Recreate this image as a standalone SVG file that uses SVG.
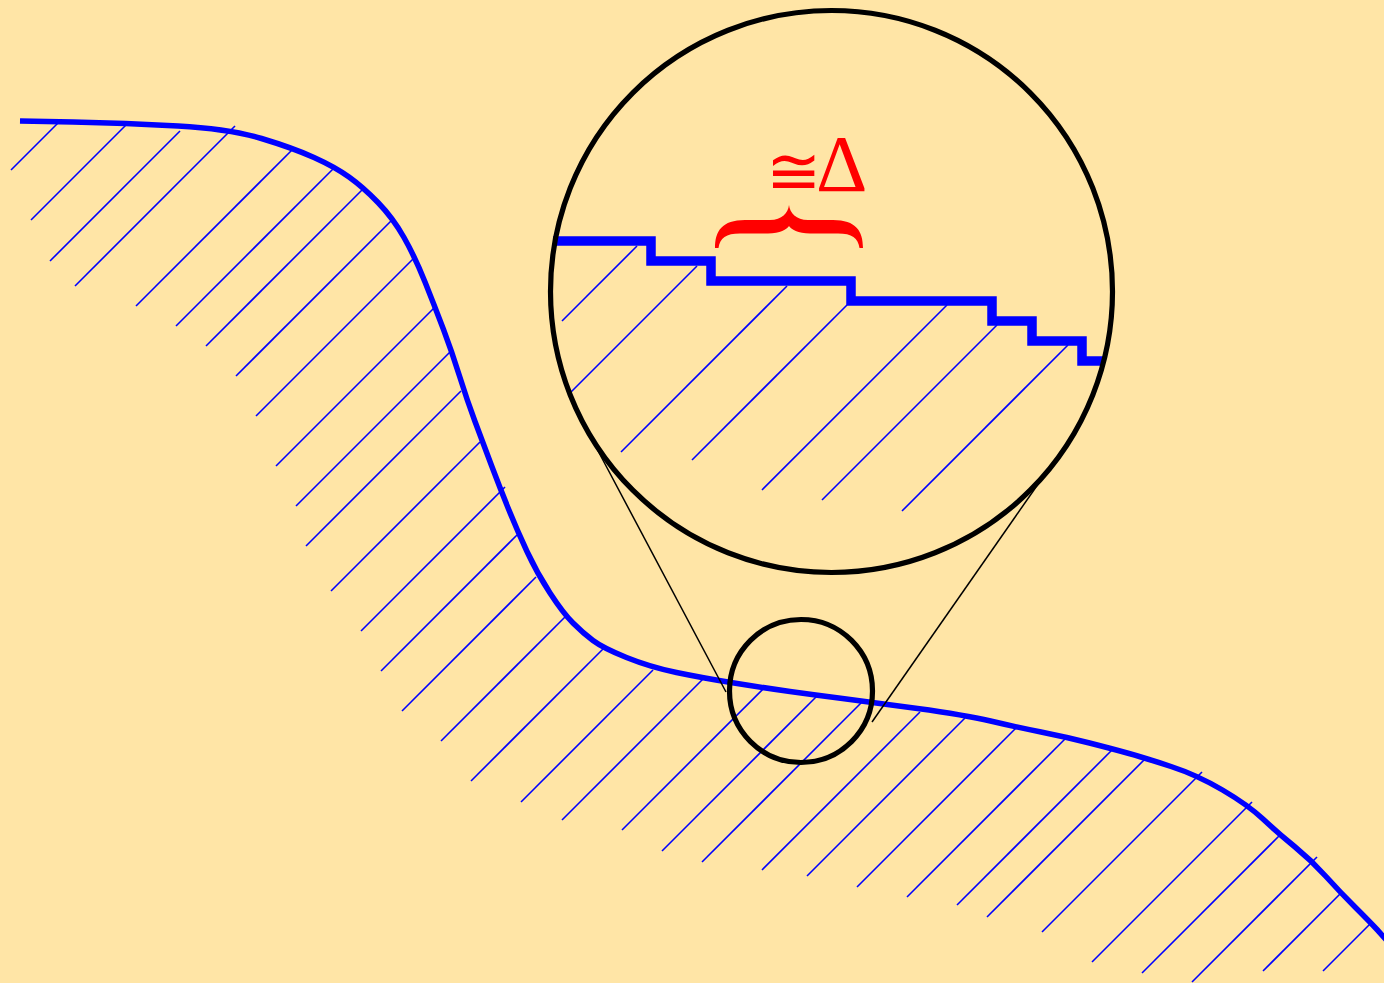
<svg xmlns="http://www.w3.org/2000/svg" width="1384" height="983" viewBox="0 0 1384 983">
<style>
.h{stroke:#0000FF;stroke-width:1.6;fill:none}
.curve{stroke:#0000FF;stroke-width:5.5;fill:none;stroke-linejoin:round}
.ring{stroke:#000;stroke-width:5.2;fill:none}
.conn{stroke:#000;stroke-width:1.5;fill:none}
.lbl{fill:#FF0000;font-family:"Liberation Serif","DejaVu Serif",serif;font-size:80px}
</style>
<rect x="0" y="0" width="1384" height="983" fill="#FFE5A6"/>
<g id="hatch">
<line class="h" x1="58" y1="123" x2="11" y2="170"/>
<line class="h" x1="126" y1="125" x2="31" y2="220"/>
<line class="h" x1="180" y1="131" x2="50" y2="261"/>
<line class="h" x1="235" y1="126" x2="75" y2="286"/>
<line class="h" x1="293" y1="149" x2="136" y2="306"/>
<line class="h" x1="334" y1="168" x2="176" y2="326"/>
<line class="h" x1="364" y1="188" x2="206" y2="346"/>
<line class="h" x1="394" y1="218" x2="236" y2="376"/>
<line class="h" x1="415" y1="257" x2="256" y2="416"/>
<line class="h" x1="435" y1="307" x2="276" y2="466"/>
<line class="h" x1="452" y1="350" x2="296" y2="506"/>
<line class="h" x1="461" y1="391" x2="306" y2="546"/>
<line class="h" x1="480" y1="442" x2="331" y2="591"/>
<line class="h" x1="505" y1="487" x2="361" y2="631"/>
<line class="h" x1="517" y1="535" x2="381" y2="671"/>
<line class="h" x1="536" y1="577" x2="402" y2="711"/>
<line class="h" x1="565" y1="617" x2="441" y2="741"/>
<line class="h" x1="603" y1="649" x2="471" y2="781"/>
<line class="h" x1="653" y1="670" x2="521" y2="802"/>
<line class="h" x1="703" y1="679" x2="562" y2="820"/>
<line class="h" x1="764" y1="688" x2="622" y2="830"/>
<line class="h" x1="817" y1="696" x2="662" y2="851"/>
<line class="h" x1="862" y1="702" x2="702" y2="862"/>
<line class="h" x1="920" y1="712" x2="762" y2="870"/>
<line class="h" x1="965" y1="718" x2="807" y2="876"/>
<line class="h" x1="1017" y1="727" x2="857" y2="887"/>
<line class="h" x1="1066" y1="738" x2="907" y2="897"/>
<line class="h" x1="1113" y1="749" x2="957" y2="905"/>
<line class="h" x1="1145" y1="759" x2="987" y2="917"/>
<line class="h" x1="1202" y1="772" x2="1042" y2="932"/>
<line class="h" x1="1252" y1="802" x2="1092" y2="962"/>
<line class="h" x1="1279" y1="836" x2="1142" y2="973"/>
<line class="h" x1="1317" y1="857" x2="1192" y2="982"/>
<line class="h" x1="1340" y1="894" x2="1263" y2="971"/>
<line class="h" x1="1370" y1="924" x2="1323" y2="971"/>
</g>
<g id="surface">
<path class="curve" d="M20,121 L73,122 Q126,123 178,126 Q230,129 261.5,138.5 Q293,148 314,157.5 Q335,167 349,177 Q363,187 378,202.5 Q393,218 404,237.5 Q415,257 425,282 Q435,307 443.5,329.5 Q452,352 459.5,376 Q467,400 475,421.5 Q483,443 491.5,465.5 Q500,488 508.5,509 Q517,530 527,551.5 Q537,573 550,593 Q563,613 573,623 Q583,633 593,640.5 Q603,648 626.5,657.5 Q650,667 676.5,672.5 Q703,678 734,683 Q765,688 790,691.5 Q815,695 842.5,698.5 Q870,702 917.5,708.5 Q965,715 990.5,721 Q1016,727 1041,732 Q1066,737 1089.5,743 Q1113,749 1129,753.5 Q1145,758 1171,766.5 Q1197,775 1222.5,790 Q1248,805 1263,819 Q1278,833 1294.5,846.5 Q1311,860 1325.5,876 Q1340,892 1355,907 Q1370,922 1377,929.5 L1390,944"/>
</g>
<g id="zoom-hatch">
<line class="h" x1="637" y1="246" x2="562" y2="321"/>
<line class="h" x1="697" y1="266" x2="571" y2="392"/>
<line class="h" x1="787" y1="286" x2="621" y2="452"/>
<line class="h" x1="847" y1="305" x2="692" y2="460"/>
<line class="h" x1="947" y1="305" x2="762" y2="490"/>
<line class="h" x1="997" y1="325" x2="822" y2="500"/>
<line class="h" x1="1068" y1="345" x2="902" y2="511"/>
</g>
<g id="staircase">
<path d="M553,241 H651 V261 H711 V281 H851 V301 H992 V321 H1032 V341 H1082 V361 H1103" fill="none" stroke="#0000FF" stroke-width="9.5" stroke-linejoin="miter"/>
</g>
<g id="connectors">
<line class="conn" x1="596" y1="447" x2="726" y2="692"/>
<line class="conn" x1="1050" y1="467" x2="872" y2="722"/>
</g>
<g id="small-circle">
<circle class="ring" cx="801" cy="691" r="71.5"/>
</g>
<g id="big-circle">
<circle class="ring" cx="831.5" cy="291.5" r="281"/>
</g>
<g id="label">
<path fill="#FF0000" d="M715,248 C715,231 722,220 745,220 L770,220 C782,220 788,213 789,205 C790,213 796,220 808,220 L833,220 C856,220 863,231 863,248 L859.5,248 C858,238 852,233.5 838,233.5 L810,233.5 C798,233.5 791,229 789,226 C787,229 780,233.5 768,233.5 L740,233.5 C726,233.5 720,238 718.5,248 Z"/>
<text class="lbl"><tspan x="766" y="194" font-family="'DejaVu Serif',serif" font-size="66" font-weight="normal">≅</tspan><tspan x="816" y="191">Δ</tspan></text>
</g>
</svg>
